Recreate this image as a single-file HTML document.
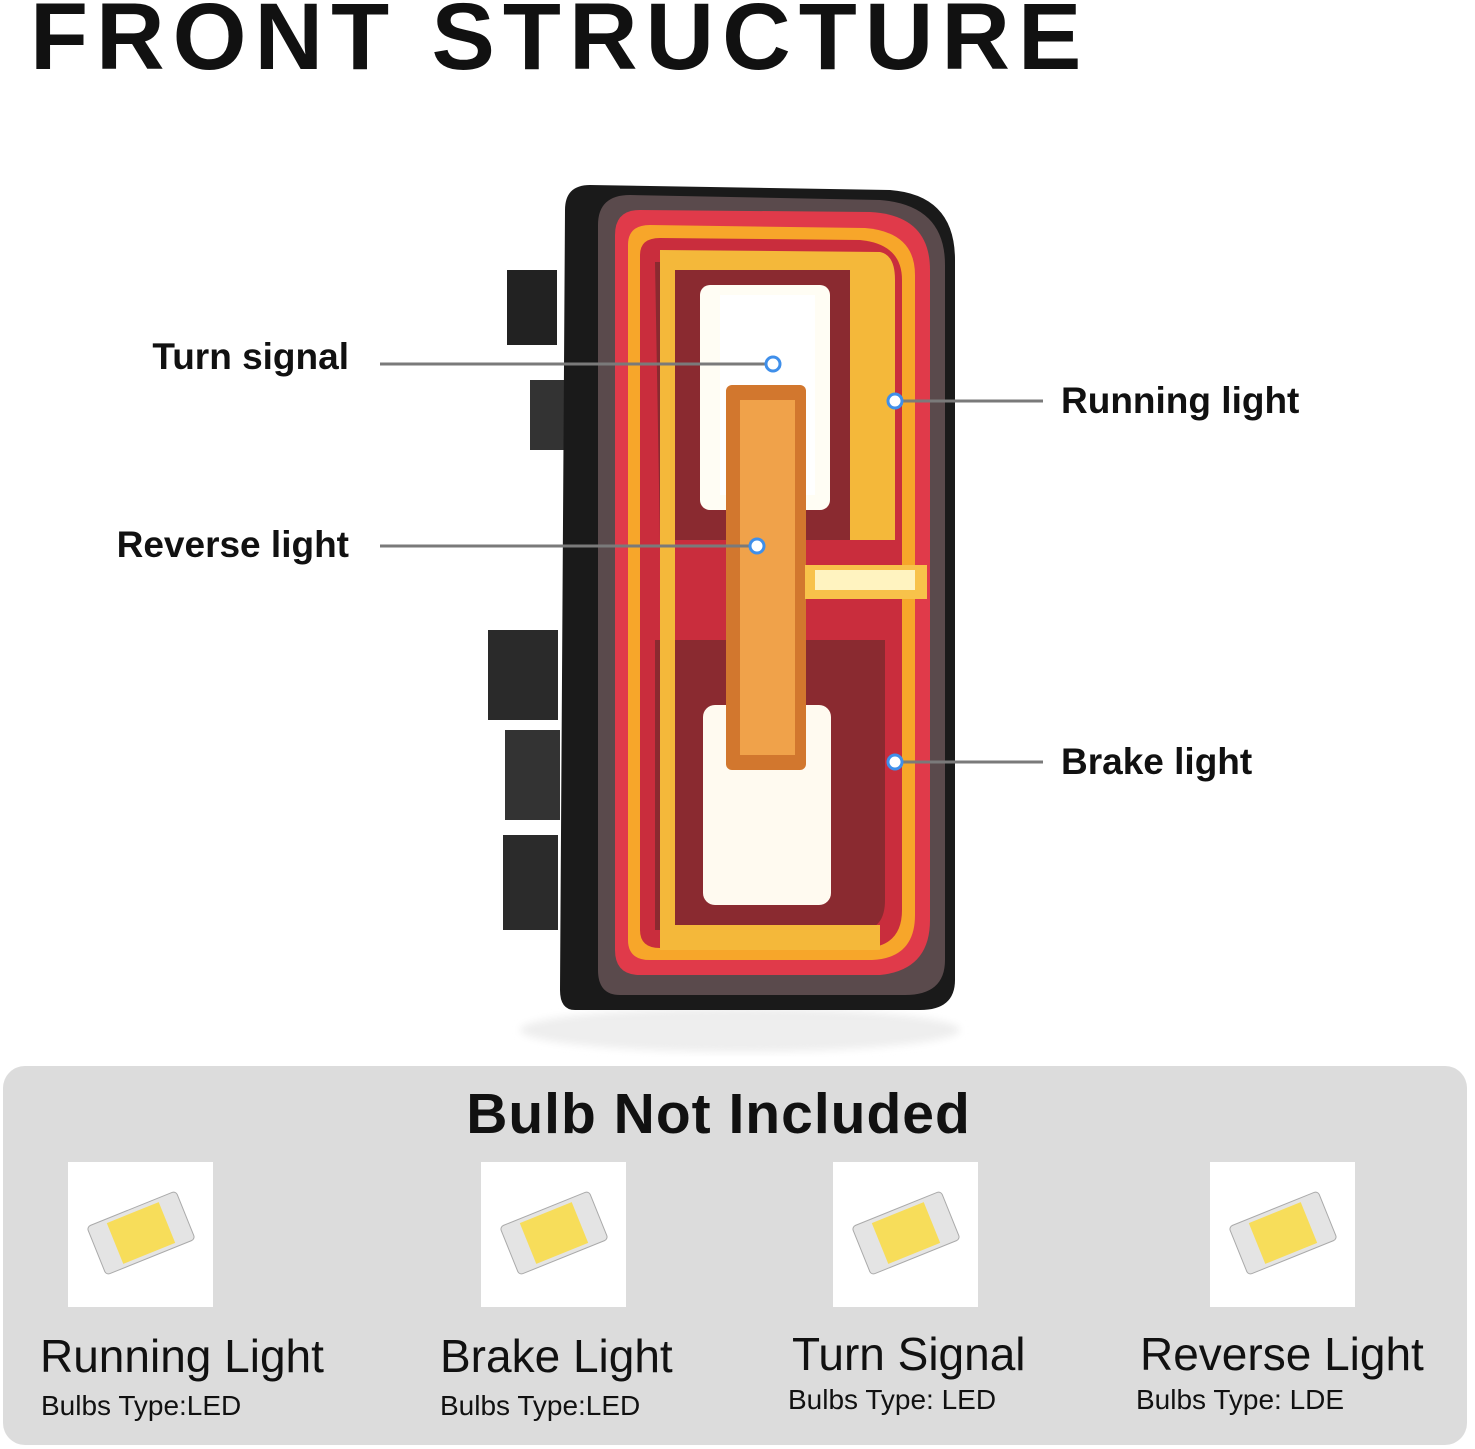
<!DOCTYPE html>
<html><head><meta charset="utf-8"><style>
body{margin:0;width:1475px;height:1449px;background:#fff;position:relative;overflow:hidden;font-family:"Liberation Sans",sans-serif}
.t{position:absolute;white-space:nowrap}
.title{left:30px;top:-17px;font-size:95px;font-weight:bold;letter-spacing:8px;color:#111}
.lab{font-size:37px;font-weight:bold;color:#111}
.panel{position:absolute;left:3px;top:1066px;width:1464px;height:379px;background:#dcdcdc;border-radius:22px}
.sq{position:absolute;top:1162px;width:145px;height:145px;background:#fff}
.n{font-size:46px;color:#111;top:1329px}
.s{font-size:28px;color:#111}
</style></head><body>
<div class="t title">FRONT STRUCTURE</div>
<svg width="1475" height="1060" style="position:absolute;left:0;top:0">
<defs>
<filter id="b"><feGaussianBlur stdDeviation="4"/></filter>
</defs>
<ellipse cx="740" cy="1030" rx="220" ry="22" fill="#eee" filter="url(#b)"/>
<rect x="507" y="270" width="50" height="75" fill="#222"/>
<rect x="530" y="380" width="40" height="70" fill="#333"/>
<rect x="488" y="630" width="70" height="90" fill="#2a2a2a"/>
<rect x="505" y="730" width="55" height="90" fill="#333"/>
<rect x="503" y="835" width="55" height="95" fill="#2b2b2b"/>
<path d="M565 210 Q565 185 590 185 L890 190 Q955 195 955 260 L955 980 Q955 1010 920 1010 L575 1010 Q560 1010 560 990 Z" fill="#1a1a1a"/>
<path d="M598 225 Q598 195 630 195 L880 200 Q945 205 945 265 L945 960 Q945 995 905 995 L620 995 Q598 995 598 970 Z" fill="#5a4a4c"/>
<path d="M615 235 Q615 210 640 210 L870 212 Q930 215 930 270 L930 920 Q930 970 880 975 L640 975 Q615 975 615 950 Z" fill="#e03a4a"/>
<path d="M628 245 Q628 225 650 225 L865 228 Q915 232 915 275 L915 915 Q915 958 872 960 L650 960 Q628 960 628 940 Z" fill="#f7a62a"/>
<path d="M640 255 Q640 238 660 238 L860 240 Q902 244 902 280 L902 910 Q902 946 866 948 L660 948 Q640 948 640 930 Z" fill="#c92d3d"/>
<path d="M655 262 L860 262 Q885 262 885 290 L885 540 L660 540 Z M655 640 L885 640 L885 900 Q885 930 860 930 L655 930 Z" fill="#8a2a30"/>
<path d="M660 250 L880 252 Q895 255 895 280 L895 540 L850 540 L850 270 L675 270 L675 925 L880 925 L880 950 L660 950 Z" fill="#f4b83a"/>
<rect x="700" y="285" width="130" height="225" rx="10" fill="#fffdf4"/>
<rect x="703" y="705" width="128" height="200" rx="12" fill="#fffaf0"/>
<rect x="720" y="295" width="95" height="200" fill="#fff"/>
<rect x="726" y="385" width="80" height="385" rx="6" fill="#d2772e"/>
<rect x="740" y="400" width="55" height="355" fill="#f0a24a"/>
<rect x="805" y="565" width="122" height="34" fill="#f8c24a"/>
<rect x="815" y="570" width="100" height="20" fill="#fff3c0"/>
<g stroke="#7a7a7a" stroke-width="3">
<line x1="380" y1="364" x2="765" y2="364"/>
<line x1="380" y1="546" x2="750" y2="546"/>
<line x1="903" y1="401" x2="1043" y2="401"/>
<line x1="903" y1="762" x2="1043" y2="762"/>
</g>
<g fill="#fff" stroke="#3f8fea" stroke-width="3">
<circle cx="773" cy="364" r="7"/><circle cx="757" cy="546" r="7"/>
<circle cx="895" cy="401" r="7"/><circle cx="895" cy="762" r="7"/>
</g>
</svg>
<div class="t lab" style="right:1126px;top:336px">Turn signal</div>
<div class="t lab" style="right:1126px;top:524px">Reverse light</div>
<div class="t lab" style="left:1061px;top:380px">Running light</div>
<div class="t lab" style="left:1061px;top:741px">Brake light</div>
<div class="panel"></div>
<div class="t" style="left:0;width:1437px;text-align:center;top:1081px;font-size:57px;font-weight:bold;letter-spacing:1px;color:#111">Bulb Not Included</div>
<div class="sq" style="left:68px"></div><div class="sq" style="left:481px"></div><div class="sq" style="left:833px"></div><div class="sq" style="left:1210px"></div>
<svg width="1475" height="1449" style="position:absolute;left:0;top:0">
<g id="c"><g transform="translate(141,1233) rotate(-22)">
<rect x="-48" y="-26" width="96" height="52" rx="4" fill="#e4e4e4" stroke="#aaa"/>
<rect x="-28" y="-22" width="56" height="44" fill="#f7dd5a"/>
</g></g>
<use href="#c" x="413"/><use href="#c" x="765"/><use href="#c" x="1142"/>
</svg>
<div class="t n" style="left:40px">Running Light</div>
<div class="t n" style="left:440px">Brake Light</div>
<div class="t n" style="left:792px;top:1327px">Turn Signal</div>
<div class="t n" style="left:1140px;top:1327px">Reverse Light</div>
<div class="t s" style="left:41px;top:1390px">Bulbs Type:LED</div>
<div class="t s" style="left:440px;top:1390px">Bulbs Type:LED</div>
<div class="t s" style="left:788px;top:1384px">Bulbs Type: LED</div>
<div class="t s" style="left:1136px;top:1384px">Bulbs Type: LDE</div>
</body></html>
